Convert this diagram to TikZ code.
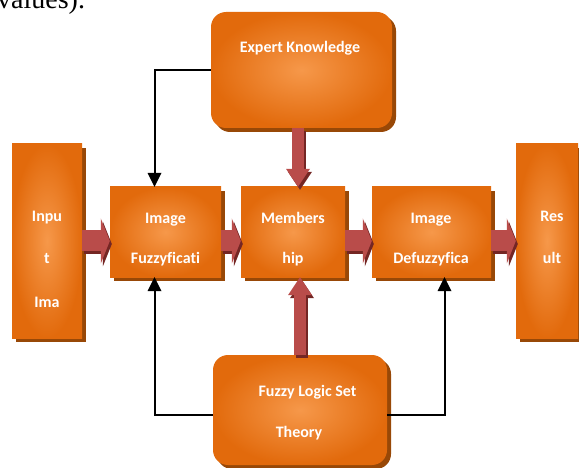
\documentclass[tikz,border=0pt]{standalone}
\usepackage{fontspec}
\setmainfont{Liberation Serif}
\newfontfamily\boxfont[Ligatures=NoCommon]{Carlito}
\usepackage{tikz}
\usepackage{xcolor}
\usetikzlibrary{arrows.meta}
\usetikzlibrary{shadows}

\definecolor{boxdark}{HTML}{E26A0C}
\definecolor{boxlight}{HTML}{F6984A}
\definecolor{boxshadow}{HTML}{984807}
\definecolor{arrred}{HTML}{B94C4A}
\definecolor{arrdark}{HTML}{742624}

\tikzset{
  box/.style={shading=radial,inner color=boxlight,outer color=boxdark,inner sep=0pt,
    drop shadow={shadow xshift=4pt,shadow yshift=-4pt,fill=boxshadow,opacity=1}},
  roundbox/.style={box,rounded corners=15pt},
  txt/.style={text=white,font=\boxfont\bfseries\fontsize{16}{19}\selectfont,anchor=base,inner sep=0pt},
  hbig/.style={line width=21pt,arrred,-{Triangle[length=9pt,width=45pt,line width=0pt]}},
  vbig/.style={line width=12pt,arrred,-{Triangle[length=18pt,width=24pt,line width=0pt]}},
  bigshade/.style={arrdark,transform canvas={shift={(2pt,-3pt)}}},
  conn/.style={black,line width=2pt,-{Triangle[length=14pt,width=14pt,line width=0pt]}}
}

\begin{document}
\begin{tikzpicture}[x=1pt,y=-1pt]
            \useasboundingbox (0,0) rectangle (579,468);
            \clip (0,0) rectangle (579,468);
            \node[anchor=base west,inner sep=0pt,font=\fontsize{28}{30}\selectfont] (capt) at (-3,9) {values).};

            % boxes
            \node[roundbox,minimum width=181pt,minimum height=116pt] (exp) at (301.5,70) {};
            \node[box,minimum width=70pt,minimum height=194pt] (inp) at (47,241) {};
            \node[box,minimum width=111pt,minimum height=90pt] (fuz) at (165.5,232) {};
            \node[box,minimum width=104pt,minimum height=90pt] (mem) at (293,232) {};
            \node[box,minimum width=119pt,minimum height=90pt] (def) at (431.5,232) {};
            \node[box,minimum width=62pt,minimum height=194pt] (res) at (547,241) {};
            \node[roundbox,minimum width=174pt,minimum height=110pt] (fls) at (300,410) {};

            % texts
            \node[txt] (exp-a) at (300,53) {Expert Knowledge};
            \node[txt] (inp-a) at (47,222) {Inpu};
            \node[txt] (inp-b) at (47,264) {t};
            \node[txt] (inp-c) at (47,307) {Ima};
            \node[txt] (fuz-a) at (165.5,224) {Image};
            \node[txt] (fuz-b) at (165.5,264) {Fuzzyficati};
            \node[txt] (mem-a) at (293,224) {Members};
            \node[txt] (mem-b) at (293,264) {hip};
            \node[txt] (def-a) at (431,224) {Image};
            \node[txt] (def-b) at (431,264) {Defuzzyfica};
            \node[txt] (res-a) at (552,222) {Res};
            \node[txt] (res-b) at (552,263) {ult};
            \node[txt] (fls-a) at (307.5,396) {Fuzzy Logic Set};
            \node[txt] (fls-b) at (299,437) {Theory};

            % thick arrows
            \draw[hbig,bigshade] (inp.east) -- (fuz.west |- inp.east);
            \draw[hbig] (inp.east) -- (fuz.west |- inp.east);
            \draw[hbig,bigshade] (fuz.east |- inp.east) -- (mem.west |- inp.east);
            \draw[hbig] (fuz.east |- inp.east) -- (mem.west |- inp.east);
            \draw[hbig,bigshade] (mem.east |- inp.east) -- (def.west |- inp.east);
            \draw[hbig] (mem.east |- inp.east) -- (def.west |- inp.east);
            \draw[hbig,bigshade] (def.east |- inp.east) -- (res.west |- inp.east);
            \draw[hbig] (def.east |- inp.east) -- (res.west |- inp.east);
            \draw[vbig,bigshade] ([xshift=5pt]mem.north |- exp.south) -- ([xshift=5pt]mem.north);
            \draw[vbig] ([xshift=5pt]mem.north |- exp.south) -- ([xshift=5pt]mem.north);
            \draw[vbig,bigshade] (fls.north) -- (mem.south -| fls.north);
            \draw[vbig] (fls.north) -- (mem.south -| fls.north);

            % thin arrows
            \draw[conn] (exp.west) -| ([xshift=-11pt]fuz.north);
            \draw[conn] ([yshift=-5pt]fls.west) -| ([xshift=-11pt]fuz.south);
            \draw[conn] ([yshift=-5pt]fls.east) -| ([xshift=13pt]def.south);
        \end{tikzpicture}
\end{document}
